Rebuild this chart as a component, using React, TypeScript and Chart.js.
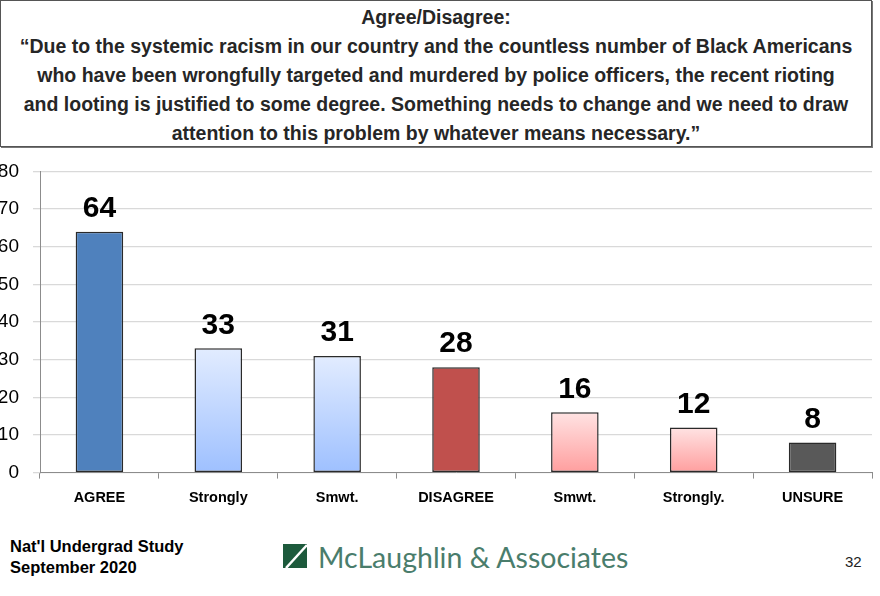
import React, { useEffect, useRef } from "react";
import { Chart, registerables } from "chart.js";

Chart.register(...registerables);

const categories = ["AGREE", "Strongly", "Smwt.", "DISAGREE", "Smwt.", "Strongly.", "UNSURE"];
const values = [64, 33, 31, 28, 16, 12, 8];
const yTicks = [0, 10, 20, 30, 40, 50, 60, 70, 80];
const titleLines = [
  "Agree/Disagree:",
  "\u201cDue to the systemic racism in our country and the countless number of Black Americans",
  "who have been wrongfully targeted and murdered by police officers, the recent rioting",
  "and looting is justified to some degree. Something needs to change and we need to draw",
  "attention to this problem by whatever means necessary.\u201d",
];
const footerLines = ["Nat'l Undergrad Study", "September 2020"];
const logoText = "McLaughlin & Associates";
const pageNumber = "32";

// fill styles: solid colour or [top, bottom] gradient
const fills: (string | [string, string])[] = [
  "#4F81BD",
  ["#E2ECFF", "#9EC0FF"],
  ["#E2ECFF", "#9EC0FF"],
  "#C0504D",
  ["#FFE3E3", "#FF9E9E"],
  ["#FFE3E3", "#FF9E9E"],
  "#595959",
];

const FONT = "'Liberation Sans', Arial, sans-serif";

export default function App() {
  const ref = useRef<HTMLCanvasElement | null>(null);

  useEffect(() => {
    if (!ref.current) return;
    const valueLabels = {
      id: "valueLabels",
      afterDatasetsDraw(chart: any) {
        const ctx = chart.ctx;
        const meta = chart.getDatasetMeta(0);
        ctx.save();
        ctx.font = `bold 30px ${FONT}`;
        ctx.fillStyle = "#000";
        ctx.textAlign = "center";
        ctx.textBaseline = "bottom";
        meta.data.forEach((bar: any, i: number) => {
          ctx.fillText(String(values[i]), bar.x, bar.y - 8);
        });
        ctx.restore();
      },
    };

    const chart = new Chart(ref.current, {
      type: "bar",
      data: {
        labels: categories,
        datasets: [
          {
            data: values,
            backgroundColor: (c: any) => {
              const f = fills[c.dataIndex];
              if (typeof f === "string") return f;
              const chartRef = c.chart;
              const ys = chartRef.scales && chartRef.scales.y;
              if (!ys || !chartRef.chartArea) return f[1];
              const top = ys.getPixelForValue(values[c.dataIndex]);
              const bottom = ys.getPixelForValue(0);
              const g = chartRef.ctx.createLinearGradient(0, top, 0, bottom);
              g.addColorStop(0, f[0]);
              g.addColorStop(1, f[1]);
              return g;
            },
            borderColor: "#2a2a2a",
            borderWidth: 1.5,
            borderSkipped: false,
            barPercentage: 0.4,
            categoryPercentage: 1,
          },
        ],
      },
      options: {
        animation: false,
        responsive: false,
        maintainAspectRatio: false,
        layout: { padding: { left: 28, right: 8, top: 16, bottom: 10 } },
        plugins: { legend: { display: false }, tooltip: { enabled: false }, title: { display: false } },
        scales: {
          x: {
            grid: { display: true, drawOnChartArea: false, tickLength: 6, color: "#8c8c8c", offset: true },
            border: { color: "#8c8c8c", width: 1 },
            ticks: { color: "#000", font: { family: FONT, size: 14.5, weight: "bold" }, padding: 11 },
          },
          y: {
            min: 0,
            max: 80,
            afterBuildTicks: (s: any) => {
              s.ticks = yTicks.map((v) => ({ value: v }));
            },
            afterFit: (s: any) => {
              s.width = 42;
            },
            grid: { color: "#d9d9d9", tickLength: 7, lineWidth: 1.3 },
            border: { color: "#8c8c8c", width: 1 },
            ticks: { color: "#000", font: { family: FONT, size: 19 }, padding: 14 },
          },
        },
      },
      plugins: [valueLabels],
    } as any);
    return () => chart.destroy();
  }, []);

  return (
    <div style={{ position: "absolute", left: 0, top: 0, width: 880, height: 596, overflow: "hidden", background: "#fff", fontFamily: FONT }}>
      <div
        style={{
          position: "absolute",
          left: 0,
          top: 0,
          width: 872,
          height: 147,
          border: "1px solid #555",
          boxShadow: "1px 1px 0 #777",
          boxSizing: "border-box",
          textAlign: "center",
          color: "#262626",
          fontWeight: "bold",
          fontSize: 19.5,
          lineHeight: "29px",
          paddingTop: 2,
          whiteSpace: "nowrap",
        }}
      >
        {titleLines.map((t, i) => (
          <div key={i}>{t}</div>
        ))}
      </div>
      <canvas ref={ref} width={910} height={382} style={{ position: "absolute", left: -30, top: 146, width: 910, height: 382 }} />
      <div style={{ position: "absolute", left: 10, top: 536, fontWeight: "bold", fontSize: 16.5, lineHeight: "21px", color: "#000" }}>
        {footerLines.map((t, i) => (
          <div key={i}>{t}</div>
        ))}
      </div>
      <svg style={{ position: "absolute", left: 283, top: 544 }} width={24} height={24} viewBox="0 0 24 24">
        <rect x="0" y="0" width="24" height="24" fill="#1d5a3c" />
        <line x1="3" y1="24" x2="24" y2="1" stroke="#fff" strokeWidth="2.5" />
      </svg>
      <div style={{ position: "absolute", left: 318, top: 540, fontFamily: "Lato, 'Open Sans', sans-serif", fontSize: 28.5, color: "#4a7d6c", whiteSpace: "nowrap" }}>
        {logoText}
      </div>
      <div style={{ position: "absolute", left: 845, top: 553, fontSize: 15, color: "#222" }}>{pageNumber}</div>
    </div>
  );
}
